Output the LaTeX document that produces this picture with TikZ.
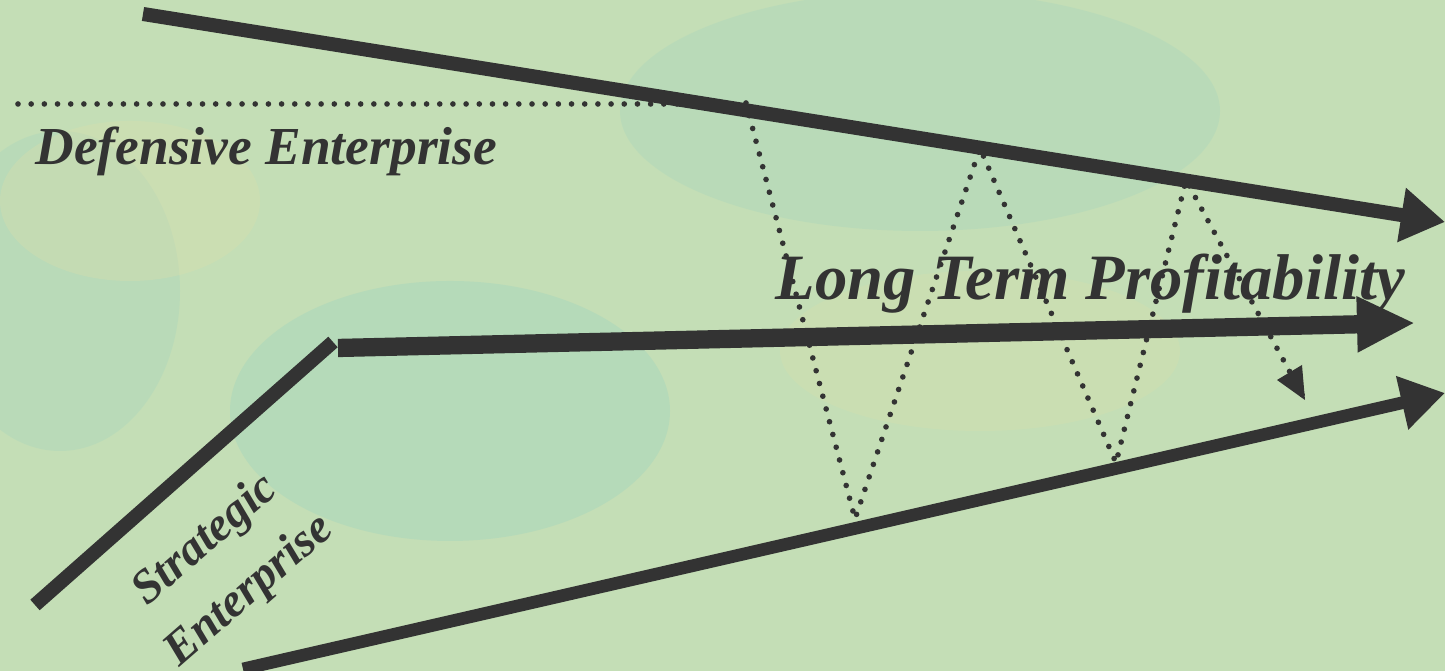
\documentclass[tikz,border=0pt]{standalone}
\usepackage{fontspec}
\setmainfont{Liberation Serif}
\usetikzlibrary{arrows.meta}
\definecolor{ink}{RGB}{51, 51, 51}
\definecolor{bg}{RGB}{196, 222, 182}
\definecolor{bgteal}{RGB}{160, 212, 190}
\definecolor{bgsand}{RGB}{222, 222, 170}
\tikzset{
  trend/.style={ink, line width=#1, line cap=butt},
  trend/.default=4pt,
  dotline/.style={
    ink, line width=1.6pt, line cap=round,
    dash pattern=on 0pt off 3.75pt
  },
  bigtip/.style={-{Triangle[length=#1, width=0.52cm]}},
  lbl/.style={font=\bfseries\itshape, text=ink, inner sep=0pt},
}

\begin{document}
\begin{tikzpicture}

  %% ── Background ─────────────────────────────────────────────────────────────

  \useasboundingbox (0,0) rectangle (14.45,6.71);
  \begin{scope}
    \clip (0,0) rectangle (14.45,6.71);
    \fill[bg] (0,0) rectangle (14.45,6.71);
    \fill[bgteal, opacity=0.4] (4.5,2.6) ellipse (2.2cm and 1.3cm);
    \fill[bgteal, opacity=0.3] (9.2,5.6) ellipse (3.0cm and 1.2cm);
    \fill[bgteal, opacity=0.3] (0.6,3.8) ellipse (1.2cm and 1.6cm);
    \fill[bgsand, opacity=0.3] (1.3,4.7) ellipse (1.3cm and 0.8cm);
    \fill[bgsand, opacity=0.25] (9.8,3.2) ellipse (2.0cm and 0.8cm);
  \end{scope}

  %% ── End points ─────────────────────────────────────────────────────────────

  \coordinate (topS) at (1.43, 6.57);
  \coordinate (topE) at (14.45, 4.49);
  \coordinate (midS) at (3.38, 3.23);
  \coordinate (midE) at (14.15, 3.48);
  \coordinate (strS) at (0.35, 0.66);
  \coordinate (strE) at (3.33, 3.29);
  \coordinate (botS) at (2.43, 0.02);
  \coordinate (botE) at (14.45, 2.78);
  \coordinate (defS) at (0.18, 5.67);
  \coordinate (defE) at (6.90, 5.67);

  % zigzag turning points
  \coordinate (z0) at (7.46, 5.68);
  \coordinate (z1) at (8.55, 1.52);
  \coordinate (z2) at (9.80, 5.23);
  \coordinate (z3) at (11.16, 2.08);
  \coordinate (z4) at (11.86, 4.91);
  \coordinate (z5) at (13.05, 2.71);

  %% ── Trend arrows ───────────────────────────────────────────────────────────

  \draw[trend=4pt, bigtip=0.44cm] (topS) -- (topE);
  \draw[trend=5.2pt, bigtip=0.58cm] (midS) -- (midE);
  \draw[trend=4pt] (strS) -- (strE);
  \draw[trend=3.6pt, bigtip=0.44cm] (botS) -- (botE);

  %% ── Dotted paths ───────────────────────────────────────────────────────────

  \draw[dotline] (defS) -- (defE);
  \draw[dotline] (z0) -- (z1) -- (z2) -- (z3) -- (z4) -- (z5);
  \fill[ink] (z5) -- ++(-0.28,0.20) -- ++(0.25,0.15) -- cycle;

  %% ── Labels ─────────────────────────────────────────────────────────────────

  \node[lbl, font=\fontsize{15.2}{18}\selectfont\bfseries\itshape, anchor=base west]
    (def) at (0.35, 5.06) {Defensive Enterprise};
  \node[lbl, font=\fontsize{18.4}{22}\selectfont\bfseries\itshape, anchor=base west]
    (ltp) at (7.75, 3.71) {Long Term Profitability};
  \node[lbl, font=\fontsize{13.5}{19}\selectfont\bfseries\itshape, align=center, rotate=41]
    (str) at (2.28, 1.05) {Strategic\\Enterprise};

\end{tikzpicture}
\end{document}
